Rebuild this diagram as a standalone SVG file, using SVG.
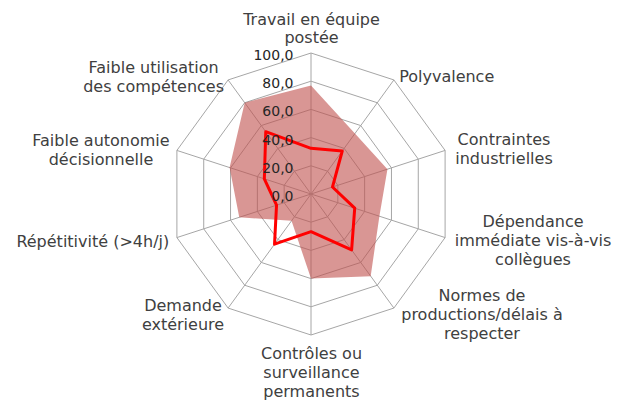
<svg xmlns="http://www.w3.org/2000/svg" width="618" height="407" viewBox="0 0 618 407">
<style>
.grid{fill:none;stroke:#A6A6A6;stroke-width:1}
.val{font-family:"DejaVu Sans",Verdana,sans-serif;font-size:14px;fill:#262626;text-anchor:end}
.lbl{font-family:"DejaVu Sans",Verdana,sans-serif;font-size:16px;fill:#404040;text-anchor:middle}
.area{fill:#C0504D;fill-opacity:0.6;stroke:none}
.line{fill:none;stroke:#FF0000;stroke-width:3;stroke-linejoin:round}
</style>
<rect width="618" height="407" fill="#FFFFFF"/>
<g id="grid">
<polygon class="grid" points="311,165.8 327.58,171.19 337.82,185.29 337.82,202.71 327.58,216.81 311,222.2 294.42,216.81 284.18,202.71 284.18,185.29 294.42,171.19"/>
<polygon class="grid" points="311,137.6 344.15,148.37 364.64,176.57 364.64,211.43 344.15,239.63 311,250.4 277.85,239.63 257.36,211.43 257.36,176.57 277.85,148.37"/>
<polygon class="grid" points="311,109.4 360.73,125.56 391.46,167.86 391.46,220.14 360.73,262.44 311,278.6 261.27,262.44 230.54,220.14 230.54,167.86 261.27,125.56"/>
<polygon class="grid" points="311,81.2 377.3,102.74 418.28,159.14 418.28,228.86 377.3,285.26 311,306.8 244.7,285.26 203.72,228.86 203.72,159.14 244.7,102.74"/>
<polygon class="grid" points="311,53 393.88,79.93 445.1,150.43 445.1,237.57 393.88,308.07 311,335 228.12,308.07 176.9,237.57 176.9,150.43 228.12,79.93"/>
<path class="grid" d="M311,194L311,53M311,194L393.88,79.93M311,194L445.1,150.43M311,194L445.1,237.57M311,194L393.88,308.07M311,194L311,335M311,194L228.12,308.07M311,194L176.9,237.57M311,194L176.9,150.43M311,194L228.12,79.93"/>
</g>
<g id="series-area">
<polygon class="area" points="311,85.43 354.93,133.54 387.44,169.16 379.39,216.22 370.67,276.13 311,278.6 291.52,220.81 239.25,217.31 229.6,167.55 244.7,102.74"/>
</g>
<g id="series-line">
<polygon class="line" points="311,148.32 342.25,150.99 332.46,187.03 354.72,208.21 351.61,249.89 311,231.65 274.53,244.19 276.53,205.2 264.33,178.84 265.75,131.71"/>
</g>
<g id="axis-values">
<text class="val" x="293.5" y="60">100,0</text>
<text class="val" x="293.5" y="88.2">80,0</text>
<text class="val" x="293.5" y="116.4">60,0</text>
<text class="val" x="293.5" y="144.6">40,0</text>
<text class="val" x="293.5" y="172.8">20,0</text>
<text class="val" x="293.5" y="201">0,0</text>
</g>
<g id="lbl-travail"><text class="lbl" x="311.5" y="24.5">Travail en équipe</text><text class="lbl" x="311.5" y="43">postée</text></g>
<g id="lbl-polyvalence"><text class="lbl" x="446.7" y="81.7">Polyvalence</text></g>
<g id="lbl-contraintes"><text class="lbl" x="504" y="144.5">Contraintes</text><text class="lbl" x="504" y="163.5">industrielles</text></g>
<g id="lbl-dependance"><text class="lbl" x="533" y="227">Dépendance</text><text class="lbl" x="533" y="246">immédiate vis-à-vis</text><text class="lbl" x="533" y="265">collègues</text></g>
<g id="lbl-normes"><text class="lbl" x="482" y="300.5">Normes de</text><text class="lbl" x="482" y="319.5">productions/délais à</text><text class="lbl" x="482" y="338.5">respecter</text></g>
<g id="lbl-controles"><text class="lbl" x="311.5" y="358.5">Contrôles ou</text><text class="lbl" x="311.5" y="377.5">surveillance</text><text class="lbl" x="311.5" y="396.5">permanents</text></g>
<g id="lbl-demande"><text class="lbl" x="183" y="311">Demande</text><text class="lbl" x="183" y="330">extérieure</text></g>
<g id="lbl-repetitivite"><text class="lbl" x="92.8" y="246.5">Répétitivité (&gt;4h/j)</text></g>
<g id="lbl-autonomie"><text class="lbl" x="101" y="145.5">Faible autonomie</text><text class="lbl" x="101" y="165">décisionnelle</text></g>
<g id="lbl-utilisation"><text class="lbl" x="153.6" y="72.5">Faible utilisation</text><text class="lbl" x="153.6" y="91.5">des compétences</text></g>
</svg>
